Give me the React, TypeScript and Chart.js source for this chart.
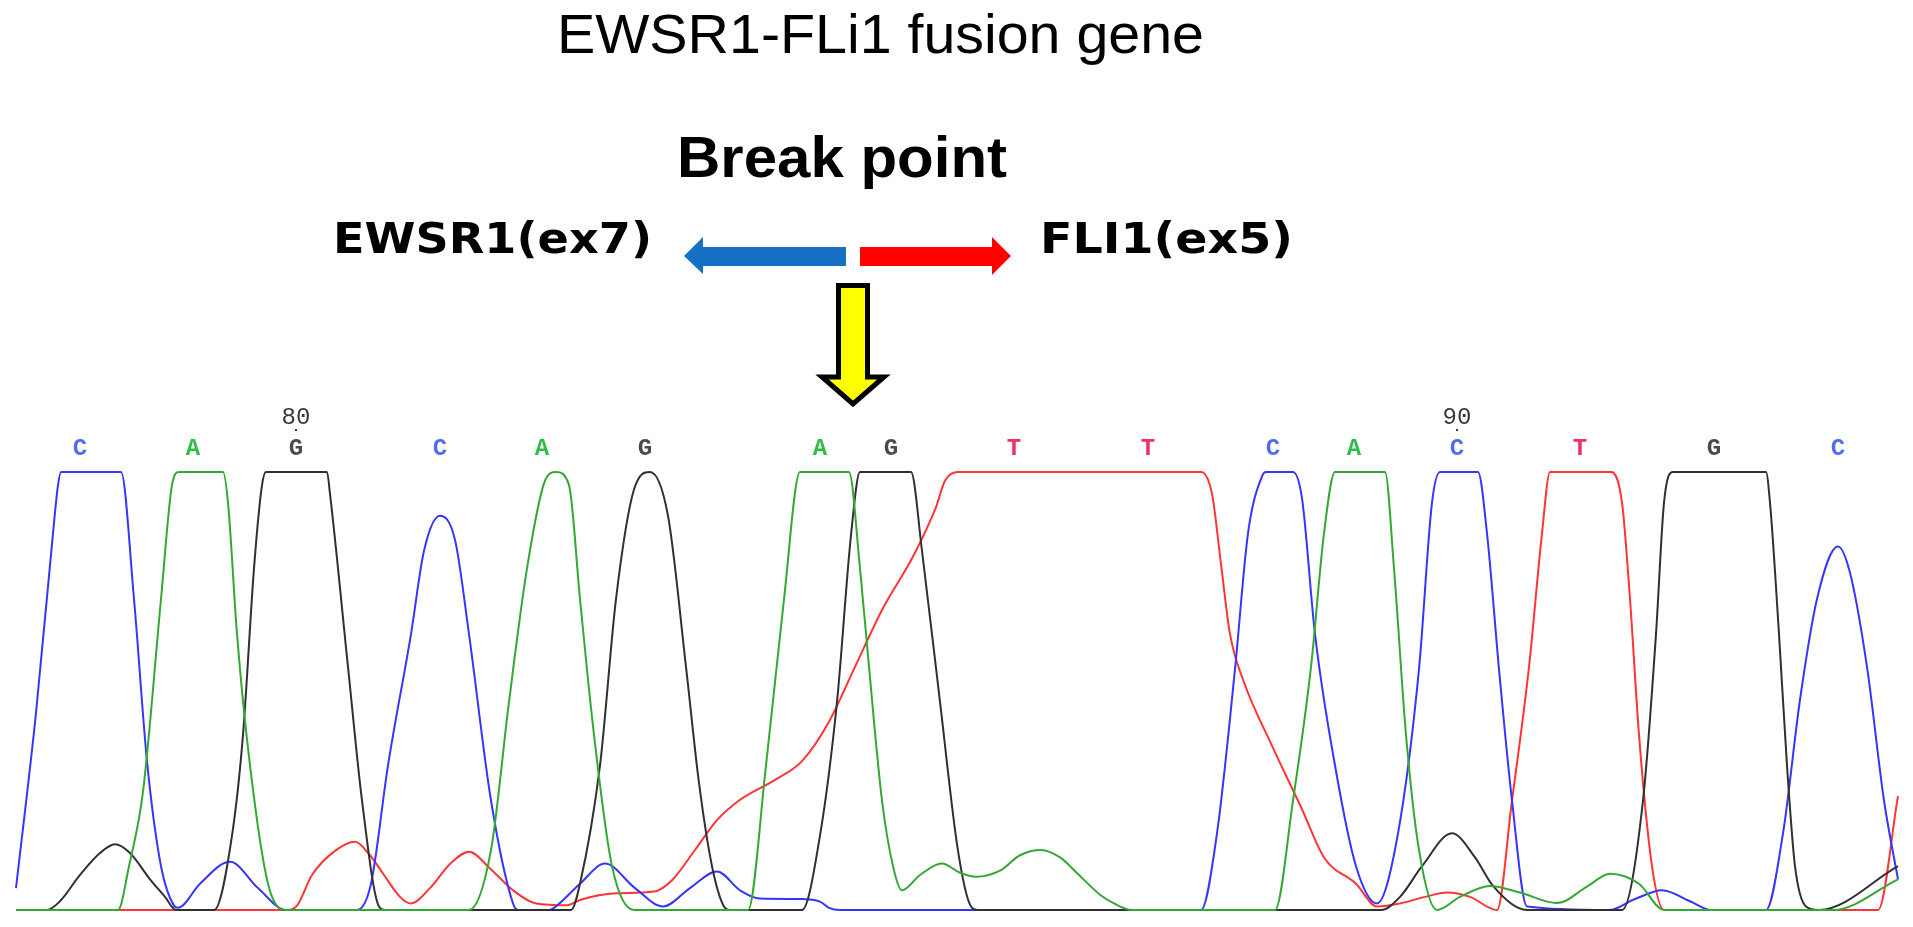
import React, { useEffect, useRef } from "react";
import { Chart, registerables } from "chart.js";

Chart.register(...registerables);

// ---- Texts ----
const TITLE = "EWSR1-FLi1 fusion gene";
const BREAK_LABEL = "Break point";
const LEFT_GENE = "EWSR1(ex7)";
const RIGHT_GENE = "FLI1(ex5)";

// ---- Base calls (x in scan units) ----
const BASES = ["C", "A", "G", "C", "A", "G", "A", "G", "T", "T", "C", "A", "C", "T", "G", "C"];
const BASE_SCANS = [40, 96.5, 148, 220, 271, 322.5, 410, 445.5, 507, 574, 636.5, 677, 728.5, 790, 857, 919];
const FIRST_BASE_NUMBER = 78;

// ---- Traces: [scan, signal] (signal clipped at 100) ----
const TRACE_C: [number, number][] = [
  [8, 5], [18, 45], [26.5, 86], [29, 97], [30.5, 100], [60.5, 100], [67, 71], [73.5, 34], [80.5, 10], [87, 1],
  [89, 0.5], [100, 6], [115, 11], [129, 5], [143, 0], [178.5, 0], [185.5, 6], [194, 33], [205.5, 63], [212, 82],
  [220, 90], [227.5, 84.5], [234.5, 63], [245.5, 25], [256.5, 1.5], [259, 0], [274.5, 0], [277, 0.5], [290, 6],
  [302.5, 10.6], [317.5, 5], [331.5, 0.8], [345, 5], [358.5, 8.8], [370, 4.5], [380, 2.6], [400, 2.5], [410, 1.9],
  [414.5, 0.5], [420, 0], [600.5, 0], [608.5, 17.5], [617.5, 55], [624, 86], [631, 99], [633, 100], [646.5, 100],
  [651, 94], [657.5, 63], [667.5, 33], [678, 10], [688.5, 1.5], [699, 17.5], [709.5, 55], [716, 93], [720, 100],
  [739, 100], [743.5, 86], [749.5, 55], [756, 25], [763.5, 0.8], [804.5, 0], [817.5, 2.5], [831, 4.5], [845, 2],
  [855.5, 0], [883, 0], [891.5, 17.5], [900, 48], [908.5, 71], [919, 83], [925, 77], [933.5, 55.5], [942, 25], [949, 7],
];

const TRACE_G: [number, number][] = [
  [8, 0], [23.5, 0], [30, 2], [40, 8], [50, 13], [57.5, 15], [65, 13], [75, 7], [82.5, 3], [88, 0], [107, 0],
  [116, 17], [121.5, 40], [127, 78], [131, 97], [133, 100], [163.5, 100], [165, 95], [174, 55.5], [181, 25],
  [189.5, 0.8], [192.5, 0], [285.5, 0], [290, 6], [300, 33], [308, 71], [317, 96], [325, 100], [334, 90],
  [343, 55.5], [349.5, 29], [356, 10], [362, 0.8], [365, 0], [401, 0], [410, 17], [418.5, 47.5], [425.5, 85.6],
  [430, 100], [455.5, 100], [461, 82], [470, 47.5], [479, 13.5], [485.5, 0.8], [489, 0], [690.5, 0], [700, 3],
  [711, 10], [726, 17.5], [737.5, 12], [746.5, 5.5], [763.5, 0], [811, 0], [821.5, 25], [828, 63], [832, 93],
  [836.5, 100], [883, 100], [885, 93], [889.5, 63], [893.5, 33], [897.5, 10], [903, 0.8], [909.5, 0], [949, 10],
];

const TRACE_A: [number, number][] = [
  [8, 0], [59, 0], [64.5, 10], [71.5, 27], [80.5, 71], [86, 97], [89.5, 100], [111.5, 100], [114, 93], [118.5, 63],
  [125, 33], [134, 6], [143, 0], [234.5, 0], [245.5, 13.7], [254.5, 47.5], [263.5, 78], [272.5, 98], [278, 100],
  [284.5, 97], [290, 71], [297, 40], [306, 10], [317, 0], [374, 0], [383, 33], [392, 71], [400, 100], [424.5, 100],
  [430, 78], [434.5, 55.5], [441, 25], [446.5, 10], [451, 4.5], [460, 8], [471, 10.6], [480, 8.5], [488, 7.6],
  [500, 9], [510, 12.5], [520.5, 13.7], [530, 12], [539.5, 8], [550, 3.5], [557, 1.5], [566, 0], [637.5, 0],
  [646.5, 25], [655.5, 55.5], [662, 86], [667.5, 100], [692.5, 100], [697, 78], [703, 40], [709.5, 13.7],
  [718.5, 0], [730, 3], [745, 5.5], [760, 4], [778.5, 1.6], [794, 5.5], [805, 8.3], [819.5, 6], [832, 0],
  [916.5, 0], [949, 7],
];

const TRACE_T: [number, number][] = [
  [8, 0], [143, 0], [148.5, 1], [156, 8], [167.5, 13.5], [177.5, 15.6], [185, 12.5], [192, 8], [200, 3],
  [205.5, 1.5], [215, 5], [225, 10.5], [234.5, 13.3], [245, 9.5], [256.5, 4.5], [268, 1.5], [283.5, 1.1],
  [290, 2.3], [308, 3.8], [327, 4.2], [336, 6.8], [347.5, 13.7], [358.5, 20.5], [369.5, 25], [387.5, 29.7],
  [401, 34], [414.5, 43], [427.5, 55.5], [441, 68.5], [456.5, 80.7], [468, 92], [472.5, 98], [479, 100],
  [600.5, 100], [606, 95], [610.5, 79], [615, 63], [622, 52], [635.5, 38], [651, 23], [662, 12], [678, 6],
  [688.5, 0.8], [700, 1.5], [712.5, 3], [723.5, 4], [735, 3], [748.5, 0], [756, 25], [764.5, 55.5], [771, 86],
  [775, 100], [805.5, 100], [811, 93], [815, 71], [819.5, 40], [826, 10], [832, 0], [939, 0], [949, 26],
];

const TRACE_COLORS: Record<string, string> = { A: "#33a833", C: "#3535ff", G: "#303030", T: "#ff3535" };
const LABEL_COLORS: Record<string, string> = { A: "#2ebf48", C: "#4f6cf0", G: "#4a4a4a", T: "#ec3062" };

function fitText(ctx: CanvasRenderingContext2D, text: string, cx: number, baseline: number, font: string, width: number, color: string) {
  ctx.save();
  ctx.font = font;
  const w = ctx.measureText(text).width;
  ctx.translate(cx, baseline);
  ctx.scale(width / w, 1);
  ctx.textAlign = "center";
  ctx.textBaseline = "alphabetic";
  ctx.fillStyle = color;
  ctx.fillText(text, 0, 0);
  ctx.restore();
}

const annotations = {
  id: "annotations",
  afterDraw(chart: any) {
    const ctx: CanvasRenderingContext2D = chart.ctx;
    const xs = chart.scales.x;
    const top = chart.chartArea.top;
    ctx.save();

    // Titles and gene labels
    fitText(ctx, TITLE, 880.5, 53, '56px "Liberation Sans", Arial, sans-serif', 647, "#000");
    fitText(ctx, BREAK_LABEL, 842, 177, 'bold 58px "Liberation Sans", Arial, sans-serif', 330, "#000");
    fitText(ctx, LEFT_GENE, 492.5, 253, 'bold 43px "DejaVu Sans", sans-serif', 319, "#000");
    fitText(ctx, RIGHT_GENE, 1166.5, 253, 'bold 43px "DejaVu Sans", sans-serif', 253, "#000");

    // Blue arrow (pointing left)
    ctx.fillStyle = "#1670c4";
    ctx.beginPath();
    ctx.moveTo(846, 247);
    ctx.lineTo(703, 247);
    ctx.lineTo(703, 237);
    ctx.lineTo(684, 256);
    ctx.lineTo(703, 274);
    ctx.lineTo(703, 266);
    ctx.lineTo(846, 266);
    ctx.closePath();
    ctx.fill();

    // Red arrow (pointing right)
    ctx.fillStyle = "#ff0000";
    ctx.beginPath();
    ctx.moveTo(860, 247);
    ctx.lineTo(992, 247);
    ctx.lineTo(992, 237);
    ctx.lineTo(1011, 256);
    ctx.lineTo(992, 275);
    ctx.lineTo(992, 266);
    ctx.lineTo(860, 266);
    ctx.closePath();
    ctx.fill();

    // Yellow down arrow with black border
    ctx.beginPath();
    ctx.moveTo(838.5, 285.5);
    ctx.lineTo(867.5, 285.5);
    ctx.lineTo(867.5, 377);
    ctx.lineTo(884, 377);
    ctx.lineTo(853, 404);
    ctx.lineTo(822, 377);
    ctx.lineTo(838.5, 377);
    ctx.closePath();
    ctx.fillStyle = "#ffff00";
    ctx.fill();
    ctx.lineWidth = 5;
    ctx.lineJoin = "miter";
    ctx.strokeStyle = "#000";
    ctx.stroke();

    // Base calls
    ctx.textAlign = "center";
    ctx.textBaseline = "middle";
    BASES.forEach((b, i) => {
      const x = xs.getPixelForValue(BASE_SCANS[i]);
      ctx.font = 'bold 24px "Liberation Mono", monospace';
      ctx.fillStyle = LABEL_COLORS[b];
      ctx.fillText(b, x, top - 23);
      const n = FIRST_BASE_NUMBER + i;
      if (n % 10 === 0) {
        ctx.font = '24px "Liberation Mono", monospace';
        ctx.fillStyle = "#383838";
        ctx.fillText(String(n), x, top - 54);
        ctx.fillRect(x - 1, top - 43, 2, 2);
      }
    });
    ctx.restore();
  },
};

function toPoints(t: [number, number][]) {
  return t.map(([x, y]) => ({ x, y }));
}

export default function App() {
  const ref = useRef<HTMLCanvasElement | null>(null);
  useEffect(() => {
    if (!ref.current) return;
    const mk = (label: string, t: [number, number][]) => ({
      label,
      data: toPoints(t),
      borderColor: TRACE_COLORS[label],
      backgroundColor: TRACE_COLORS[label],
      borderWidth: 2,
      pointRadius: 0,
      cubicInterpolationMode: "monotone" as const,
      fill: false,
      clip: false as any,
    });
    const chart = new Chart(ref.current, {
      type: "line",
      data: {
        datasets: [mk("A", TRACE_A), mk("G", TRACE_G), mk("C", TRACE_C), mk("T", TRACE_T)],
      },
      options: {
        responsive: false,
        animation: false,
        devicePixelRatio: 1,
        layout: { padding: { left: 16, right: 15, top: 472, bottom: 17 } },
        plugins: { legend: { display: false }, tooltip: { enabled: false } },
        scales: {
          x: { type: "linear", min: 8, max: 949, display: false },
          y: { min: 0, max: 100, display: false },
        },
      },
      plugins: [annotations],
    });
    return () => chart.destroy();
  }, []);
  return (
    <div style={{ position: "fixed", left: 0, top: 0, width: 1913, height: 927, background: "#fff" }}>
      <canvas ref={ref} width={1913} height={927} />
    </div>
  );
}
